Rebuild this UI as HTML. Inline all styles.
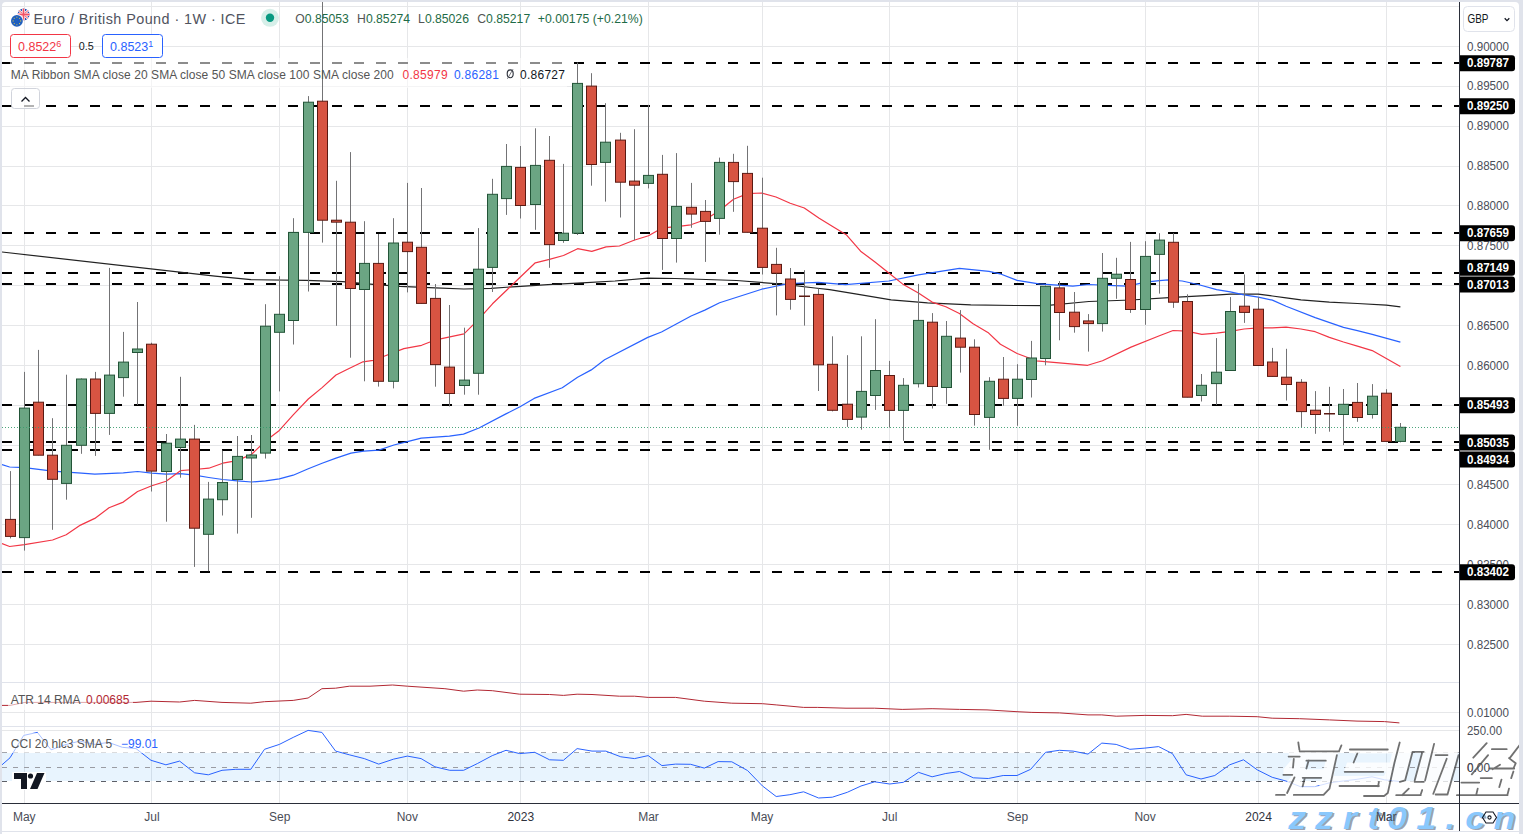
<!DOCTYPE html><html><head><meta charset="utf-8"><style>html,body{margin:0;padding:0;width:1523px;height:834px;overflow:hidden;background:#e0e3eb}</style></head><body><svg width="1523" height="834" viewBox="0 0 1523 834" style="position:absolute;left:0;top:0;font-family:'Liberation Sans', sans-serif">
<rect x="0" y="0" width="1523" height="834" fill="#e0e3eb"/>
<path d="M2 6a4 4 0 0 1 4 -4H1515a4 4 0 0 1 4 4V831H2Z" fill="#ffffff"/>
<rect x="2" y="832" width="1517" height="2" fill="#ffffff"/>
<defs><clipPath id="mp"><rect x="2" y="2" width="1457" height="681"/></clipPath><clipPath id="ap"><rect x="2" y="683" width="1457" height="43"/></clipPath><clipPath id="cp"><rect x="2" y="727" width="1457" height="76"/></clipPath></defs>
<path d="M24.5 2V803 M151.5 2V803 M279.5 2V803 M407.5 2V803 M520.5 2V803 M648.5 2V803 M762.5 2V803 M889.5 2V803 M1017.5 2V803 M1145.5 2V803 M1258.5 2V803 M1386.5 2V803 M2 6.5H1459 M2 46.5H1459 M2 86.5H1459 M2 126.5H1459 M2 166.5H1459 M2 205.5H1459 M2 245.5H1459 M2 285.5H1459 M2 325.5H1459 M2 365.5H1459 M2 405.5H1459 M2 445.5H1459 M2 484.5H1459 M2 524.5H1459 M2 564.5H1459 M2 604.5H1459 M2 644.5H1459 M2 712.5H1459 M2 730.5H1459" stroke="#e6e7e9" stroke-width="1" fill="none"/>
<path d="M2 682.5H1459 M2 726.5H1459" stroke="#e0e3eb" stroke-width="1"/>
<path d="M2 63.0H1459 M2 106.0H1459 M2 233.0H1459 M2 273.0H1459 M2 284.0H1459 M2 405.0H1459 M2 442.0H1459 M2 450.0H1459 M2 572.0H1459" stroke="#000" stroke-width="2" stroke-dasharray="10 12" fill="none"/>
<rect x="10" y="58" width="557" height="30" fill="#ffffff" fill-opacity="0.55"/>
<rect x="2" y="2" width="660" height="30" fill="#ffffff" fill-opacity="0.0"/>
<rect x="2" y="753" width="1457" height="28" fill="#2196f3" fill-opacity="0.1"/>
<path d="M2 752.5H1459" stroke="#a3a5ab" stroke-width="1" stroke-dasharray="5 6" fill="none"/>
<path d="M2 767.5H1459" stroke="#9a9ca3" stroke-width="1" stroke-dasharray="5 6" fill="none"/>
<path d="M2 781.5H1459" stroke="#5d6068" stroke-width="1" stroke-dasharray="5 6" fill="none"/>
<g clip-path="url(#mp)" fill="none" stroke-linejoin="round">
<polyline points="2.0,252.0 215.0,276.1 251.0,279.7 306.0,280.3 342.7,281.7 373.2,284.4 400.0,286.3 435.3,287.9 463.8,289.0 491.1,288.3 520.7,286.3 548.0,284.7 582.2,282.9 615.0,281.0 647.8,278.2 675.2,278.5 736.6,280.5 782.2,284.2 815.0,288.0 829.6,289.6 856.9,294.2 891.1,299.9 927.5,302.8 970.8,304.9 1015.0,305.5 1045.5,305.6 1088.8,301.5 1131.0,300.0 1173.1,297.4 1215.0,295.2 1230.3,294.2 1258.3,294.2 1272.4,296.0 1286.1,297.8 1300.9,299.9 1329.4,302.1 1357.4,303.5 1386.3,305.1 1400.4,306.9" stroke="#222222" stroke-width="1.2" opacity="1"/>
<polyline points="2.0,464.6 9.6,467.0 24.5,467.7 52.6,471.1 81.5,473.2 94.8,474.2 123.3,472.8 137.6,471.5 151.8,473.2 166.1,474.2 180.4,473.6 194.6,475.2 208.8,477.5 222.7,479.5 237.3,480.8 251.6,482.0 265.5,480.8 279.3,478.8 293.2,475.2 308.3,468.7 322.1,463.2 336.0,458.1 351.0,453.1 363.6,451.1 378.8,450.1 393.9,445.0 406.4,441.8 421.2,438.2 449.4,436.2 463.5,434.1 479.0,428.0 505.9,413.9 520.0,406.8 534.1,398.4 562.3,387.8 577.6,377.2 591.3,369.9 604.6,359.8 647.8,337.4 661.5,332.0 691.1,316.0 704.8,310.1 719.6,302.8 761.7,289.2 789.0,283.5 818.2,282.3 845.5,284.6 888.8,281.0 918.4,274.8 959.4,268.4 989.0,271.4 1000.0,273.8 1017.1,280.4 1038.7,283.8 1072.9,286.1 1088.8,284.5 1113.9,285.6 1127.5,286.1 1145.8,282.2 1159.4,280.6 1168.5,279.9 1182.2,281.0 1198.1,284.5 1216.6,289.6 1230.3,291.9 1244.0,294.9 1258.3,297.1 1272.4,300.1 1286.1,306.2 1315.2,317.6 1343.5,327.4 1357.4,330.6 1372.2,334.3 1400.4,342.2" stroke="#2962ff" stroke-width="1.2"/>
<polyline points="2.0,543.5 9.6,546.5 24.5,544.7 52.6,540.0 66.2,534.7 80.5,525.1 94.8,518.4 109.0,507.8 123.3,502.1 137.6,491.5 151.8,485.8 166.1,481.3 180.4,470.7 194.6,469.5 208.8,468.2 222.7,463.2 237.3,460.6 251.6,454.3 265.5,441.0 279.3,430.4 293.2,414.8 308.3,399.0 322.1,387.6 336.0,375.0 346.0,370.0 363.0,361.8 373.2,360.4 385.4,355.7 403.8,348.6 421.6,345.3 435.8,339.8 449.9,336.8 464.0,333.9 478.1,319.8 492.5,303.8 506.6,290.2 520.9,276.5 535.3,262.8 549.4,259.4 563.5,255.5 577.6,248.7 591.8,251.4 606.1,246.9 619.4,246.0 634.0,240.3 648.5,235.8 662.6,227.8 676.7,226.6 690.9,224.8 705.0,219.8 719.3,210.7 733.5,199.3 747.6,193.6 761.7,193.0 776.0,197.0 790.2,203.2 804.3,208.0 818.8,218.1 831.8,226.0 846.2,234.7 860.6,251.2 875.0,262.0 889.4,273.5 902.5,283.9 918.4,293.0 932.1,302.1 945.8,306.7 959.4,313.5 973.1,323.8 987.9,332.4 1000.4,344.3 1017.1,353.5 1036.4,360.8 1087.7,365.3 1102.5,360.8 1131.0,347.1 1159.4,335.7 1173.1,330.5 1186.7,331.1 1201.8,334.3 1216.6,333.1 1230.3,331.3 1244.0,329.0 1258.3,327.9 1272.4,327.9 1286.1,327.2 1300.9,329.0 1315.2,331.7 1329.4,337.4 1343.5,342.0 1357.4,346.1 1372.2,350.6 1386.3,358.6 1400.4,366.6" stroke="#f23645" stroke-width="1.2"/>
</g>
<g clip-path="url(#mp)">
<path d="M10.5 471.1V536.4M10.5 519.4V538.4" stroke="#737375" stroke-width="1"/>
<path d="M24.5 371.9V537.6M24.5 408.1V550.6" stroke="#737375" stroke-width="1"/>
<path d="M38.5 349.9V455.2M38.5 402.2V455.2" stroke="#737375" stroke-width="1"/>
<path d="M52.5 418.2V479.3M52.5 455.2V529.8" stroke="#737375" stroke-width="1"/>
<path d="M66.5 374.7V483.4M66.5 445.3V499.7" stroke="#737375" stroke-width="1"/>
<path d="M81.5 378.4V445.3M81.5 379.0V453.8" stroke="#737375" stroke-width="1"/>
<path d="M95.5 371.9V413.4M95.5 379.0V455.9" stroke="#737375" stroke-width="1"/>
<path d="M109.5 267.9V413.4M109.5 375.1V434.9" stroke="#737375" stroke-width="1"/>
<path d="M123.5 331.9V377.6M123.5 362.1V396.7" stroke="#737375" stroke-width="1"/>
<path d="M137.5 302.0V352.5M137.5 349.0V404.9" stroke="#737375" stroke-width="1"/>
<path d="M151.5 342.7V471.1M151.5 344.2V491.5" stroke="#737375" stroke-width="1"/>
<path d="M166.5 434.0V471.5M166.5 443.2V521.7" stroke="#737375" stroke-width="1"/>
<path d="M180.5 376.8V447.5M180.5 439.1V477.7" stroke="#737375" stroke-width="1"/>
<path d="M194.5 424.9V528.2M194.5 439.1V566.9" stroke="#737375" stroke-width="1"/>
<path d="M208.5 481.9V534.3M208.5 499.1V571.2" stroke="#737375" stroke-width="1"/>
<path d="M222.5 450.6V499.7M222.5 482.5V515.5" stroke="#737375" stroke-width="1"/>
<path d="M237.5 436.0V479.5M237.5 456.4V533.6" stroke="#737375" stroke-width="1"/>
<path d="M251.5 435.0V458.0M251.5 455.0V517.8" stroke="#737375" stroke-width="1"/>
<path d="M265.5 304.2V453.1M265.5 326.2V458.6" stroke="#737375" stroke-width="1"/>
<path d="M279.5 276.2V332.3M279.5 314.3V391.4" stroke="#737375" stroke-width="1"/>
<path d="M293.5 218.2V320.5M293.5 232.4V344.5" stroke="#737375" stroke-width="1"/>
<path d="M308.5 96.1V232.4M308.5 102.2V291.5" stroke="#737375" stroke-width="1"/>
<path d="M322.5 2.0V220.2M322.5 101.2V242.6" stroke="#737375" stroke-width="1"/>
<path d="M336.5 180.8V222.2M336.5 220.2V325.8" stroke="#737375" stroke-width="1"/>
<path d="M350.5 152.1V288.5M350.5 222.2V357.7" stroke="#737375" stroke-width="1"/>
<path d="M364.5 221.2V289.5M364.5 263.4V381.3" stroke="#737375" stroke-width="1"/>
<path d="M378.5 234.0V381.3M378.5 263.4V386.6" stroke="#737375" stroke-width="1"/>
<path d="M393.5 218.2V381.3M393.5 243.0V388.4" stroke="#737375" stroke-width="1"/>
<path d="M407.5 182.9V251.6M407.5 242.2V292.4" stroke="#737375" stroke-width="1"/>
<path d="M421.5 188.0V303.4M421.5 247.3V303.4" stroke="#737375" stroke-width="1"/>
<path d="M435.5 284.0V364.6M435.5 298.4V386.7" stroke="#737375" stroke-width="1"/>
<path d="M449.5 305.0V393.5M449.5 367.1V406.5" stroke="#737375" stroke-width="1"/>
<path d="M464.5 327.7V385.5M464.5 380.1V394.7" stroke="#737375" stroke-width="1"/>
<path d="M478.5 228.1V373.3M478.5 269.2V394.7" stroke="#737375" stroke-width="1"/>
<path d="M492.5 178.8V267.4M492.5 194.3V292.0" stroke="#737375" stroke-width="1"/>
<path d="M506.5 144.0V198.6M506.5 166.4V214.9" stroke="#737375" stroke-width="1"/>
<path d="M520.5 146.0V205.5M520.5 167.4V218.5" stroke="#737375" stroke-width="1"/>
<path d="M535.5 128.3V204.5M535.5 165.4V229.8" stroke="#737375" stroke-width="1"/>
<path d="M549.5 136.0V244.6M549.5 160.3V267.8" stroke="#737375" stroke-width="1"/>
<path d="M563.5 163.9V240.5M563.5 233.2V242.8" stroke="#737375" stroke-width="1"/>
<path d="M577.5 62.5V233.2M577.5 83.4V235.0" stroke="#737375" stroke-width="1"/>
<path d="M591.5 73.2V164.5M591.5 86.1V185.7" stroke="#737375" stroke-width="1"/>
<path d="M605.5 103.2V162.4M605.5 142.2V201.6" stroke="#737375" stroke-width="1"/>
<path d="M620.5 132.8V182.2M620.5 140.1V217.5" stroke="#737375" stroke-width="1"/>
<path d="M634.5 129.2V185.2M634.5 181.1V240.3" stroke="#737375" stroke-width="1"/>
<path d="M648.5 104.8V183.4M648.5 175.4V188.4" stroke="#737375" stroke-width="1"/>
<path d="M662.5 154.9V238.5M662.5 174.3V269.9" stroke="#737375" stroke-width="1"/>
<path d="M676.5 153.1V238.5M676.5 206.4V262.6" stroke="#737375" stroke-width="1"/>
<path d="M691.5 182.9V214.1M691.5 207.3V227.8" stroke="#737375" stroke-width="1"/>
<path d="M705.5 200.0V221.4M705.5 211.4V261.9" stroke="#737375" stroke-width="1"/>
<path d="M719.5 157.6V218.4M719.5 162.4V234.6" stroke="#737375" stroke-width="1"/>
<path d="M733.5 153.8V181.6M733.5 162.4V211.8" stroke="#737375" stroke-width="1"/>
<path d="M747.5 145.8V232.3M747.5 173.4V232.3" stroke="#737375" stroke-width="1"/>
<path d="M762.5 177.7V267.4M762.5 228.2V274.5" stroke="#737375" stroke-width="1"/>
<path d="M776.5 247.8V273.2M776.5 264.4V315.4" stroke="#737375" stroke-width="1"/>
<path d="M790.5 268.0V299.4M790.5 279.0V309.7" stroke="#737375" stroke-width="1"/>
<path d="M804.5 270.2V296.5M804.5 295.5V325.6" stroke="#737375" stroke-width="1"/>
<path d="M818.5 288.5V364.8M818.5 294.4V391.0" stroke="#737375" stroke-width="1"/>
<path d="M832.5 336.3V410.3M832.5 364.3V411.4" stroke="#737375" stroke-width="1"/>
<path d="M847.5 355.2V419.4M847.5 404.2V426.9" stroke="#737375" stroke-width="1"/>
<path d="M861.5 336.3V417.1M861.5 391.4V429.7" stroke="#737375" stroke-width="1"/>
<path d="M875.5 319.2V395.5M875.5 370.5V409.9" stroke="#737375" stroke-width="1"/>
<path d="M889.5 360.9V410.4M889.5 375.5V427.5" stroke="#737375" stroke-width="1"/>
<path d="M903.5 378.1V410.4M903.5 385.3V440.8" stroke="#737375" stroke-width="1"/>
<path d="M918.5 283.9V383.7M918.5 320.4V387.5" stroke="#737375" stroke-width="1"/>
<path d="M932.5 313.1V386.5M932.5 322.2V408.5" stroke="#737375" stroke-width="1"/>
<path d="M946.5 321.0V387.5M946.5 336.3V403.8" stroke="#737375" stroke-width="1"/>
<path d="M960.5 310.1V347.2M960.5 338.1V372.6" stroke="#737375" stroke-width="1"/>
<path d="M974.5 339.3V414.5M974.5 347.2V425.6" stroke="#737375" stroke-width="1"/>
<path d="M989.5 377.2V417.4M989.5 381.3V449.8" stroke="#737375" stroke-width="1"/>
<path d="M1003.5 357.0V398.4M1003.5 379.2V405.7" stroke="#737375" stroke-width="1"/>
<path d="M1017.5 364.2V398.4M1017.5 379.2V425.8" stroke="#737375" stroke-width="1"/>
<path d="M1031.5 340.9V379.5M1031.5 358.0V397.5" stroke="#737375" stroke-width="1"/>
<path d="M1045.5 285.6V358.5M1045.5 286.3V365.3" stroke="#737375" stroke-width="1"/>
<path d="M1059.5 281.0V312.5M1059.5 287.9V340.3" stroke="#737375" stroke-width="1"/>
<path d="M1074.5 292.0V326.6M1074.5 312.2V332.7" stroke="#737375" stroke-width="1"/>
<path d="M1088.5 314.1V323.6M1088.5 320.9V351.6" stroke="#737375" stroke-width="1"/>
<path d="M1102.5 253.0V323.6M1102.5 278.3V331.6" stroke="#737375" stroke-width="1"/>
<path d="M1116.5 257.8V278.3M1116.5 274.2V298.8" stroke="#737375" stroke-width="1"/>
<path d="M1130.5 241.9V309.5M1130.5 279.5V312.9" stroke="#737375" stroke-width="1"/>
<path d="M1145.5 241.2V309.5M1145.5 256.4V324.8" stroke="#737375" stroke-width="1"/>
<path d="M1159.5 233.2V254.4M1159.5 240.1V293.6" stroke="#737375" stroke-width="1"/>
<path d="M1173.5 233.2V302.2M1173.5 242.3V307.9" stroke="#737375" stroke-width="1"/>
<path d="M1187.5 294.3V397.2M1187.5 301.5V397.2" stroke="#737375" stroke-width="1"/>
<path d="M1201.5 374.0V395.5M1201.5 385.3V401.5" stroke="#737375" stroke-width="1"/>
<path d="M1216.5 338.1V383.6M1216.5 372.2V404.9" stroke="#737375" stroke-width="1"/>
<path d="M1230.5 297.1V370.5M1230.5 311.5V370.5" stroke="#737375" stroke-width="1"/>
<path d="M1244.5 274.4V312.4M1244.5 306.2V322.9" stroke="#737375" stroke-width="1"/>
<path d="M1258.5 297.1V365.5M1258.5 309.2V365.5" stroke="#737375" stroke-width="1"/>
<path d="M1272.5 347.9V376.4M1272.5 362.0V376.4" stroke="#737375" stroke-width="1"/>
<path d="M1286.5 348.8V384.5M1286.5 377.2V400.5" stroke="#737375" stroke-width="1"/>
<path d="M1301.5 379.1V411.6M1301.5 382.3V427.3" stroke="#737375" stroke-width="1"/>
<path d="M1315.5 391.1V414.5M1315.5 410.2V433.8" stroke="#737375" stroke-width="1"/>
<path d="M1329.5 386.8V414.5M1329.5 413.0V431.7" stroke="#737375" stroke-width="1"/>
<path d="M1343.5 389.0V414.5M1343.5 404.3V445.1" stroke="#737375" stroke-width="1"/>
<path d="M1357.5 383.0V417.5M1357.5 402.4V421.8" stroke="#737375" stroke-width="1"/>
<path d="M1372.5 384.1V414.5M1372.5 396.2V418.6" stroke="#737375" stroke-width="1"/>
<path d="M1386.5 389.2V441.4M1386.5 393.2V441.4" stroke="#737375" stroke-width="1"/>
<path d="M1400.5 423.0V441.4M1400.5 427.3V442.4" stroke="#737375" stroke-width="1"/>
<rect x="5.5" y="519.4" width="10" height="17.0" fill="#d75442" stroke="#5b1a13" stroke-width="1"/>
<rect x="19.5" y="408.1" width="10" height="129.5" fill="#6ba583" stroke="#225437" stroke-width="1"/>
<rect x="33.5" y="402.2" width="10" height="53.0" fill="#d75442" stroke="#5b1a13" stroke-width="1"/>
<rect x="47.5" y="455.2" width="10" height="24.1" fill="#d75442" stroke="#5b1a13" stroke-width="1"/>
<rect x="61.5" y="445.3" width="10" height="38.1" fill="#6ba583" stroke="#225437" stroke-width="1"/>
<rect x="76.5" y="379.0" width="10" height="66.3" fill="#6ba583" stroke="#225437" stroke-width="1"/>
<rect x="90.5" y="379.0" width="10" height="34.4" fill="#d75442" stroke="#5b1a13" stroke-width="1"/>
<rect x="104.5" y="375.1" width="10" height="38.3" fill="#6ba583" stroke="#225437" stroke-width="1"/>
<rect x="118.5" y="362.1" width="10" height="15.5" fill="#6ba583" stroke="#225437" stroke-width="1"/>
<rect x="132.5" y="349.0" width="10" height="3.5" fill="#6ba583" stroke="#225437" stroke-width="1"/>
<rect x="146.5" y="344.2" width="10" height="126.9" fill="#d75442" stroke="#5b1a13" stroke-width="1"/>
<rect x="161.5" y="443.2" width="10" height="28.3" fill="#6ba583" stroke="#225437" stroke-width="1"/>
<rect x="175.5" y="439.1" width="10" height="8.4" fill="#6ba583" stroke="#225437" stroke-width="1"/>
<rect x="189.5" y="439.1" width="10" height="89.1" fill="#d75442" stroke="#5b1a13" stroke-width="1"/>
<rect x="203.5" y="499.1" width="10" height="35.2" fill="#6ba583" stroke="#225437" stroke-width="1"/>
<rect x="217.5" y="482.5" width="10" height="17.2" fill="#6ba583" stroke="#225437" stroke-width="1"/>
<rect x="232.5" y="456.4" width="10" height="23.1" fill="#6ba583" stroke="#225437" stroke-width="1"/>
<rect x="246.5" y="455.0" width="10" height="3.0" fill="#6ba583" stroke="#225437" stroke-width="1"/>
<rect x="260.5" y="326.2" width="10" height="126.9" fill="#6ba583" stroke="#225437" stroke-width="1"/>
<rect x="274.5" y="314.3" width="10" height="18.0" fill="#6ba583" stroke="#225437" stroke-width="1"/>
<rect x="288.5" y="232.4" width="10" height="88.1" fill="#6ba583" stroke="#225437" stroke-width="1"/>
<rect x="303.5" y="102.2" width="10" height="130.2" fill="#6ba583" stroke="#225437" stroke-width="1"/>
<rect x="317.5" y="101.2" width="10" height="119.0" fill="#d75442" stroke="#5b1a13" stroke-width="1"/>
<rect x="331" y="219.7" width="11" height="3.0" fill="#5b1a13"/>
<rect x="332" y="220.7" width="9" height="1.0" fill="#d75442"/>
<rect x="345.5" y="222.2" width="10" height="66.3" fill="#d75442" stroke="#5b1a13" stroke-width="1"/>
<rect x="359.5" y="263.4" width="10" height="26.1" fill="#6ba583" stroke="#225437" stroke-width="1"/>
<rect x="373.5" y="263.4" width="10" height="117.9" fill="#d75442" stroke="#5b1a13" stroke-width="1"/>
<rect x="388.5" y="243.0" width="10" height="138.3" fill="#6ba583" stroke="#225437" stroke-width="1"/>
<rect x="402.5" y="242.2" width="10" height="9.4" fill="#d75442" stroke="#5b1a13" stroke-width="1"/>
<rect x="416.5" y="247.3" width="10" height="56.1" fill="#d75442" stroke="#5b1a13" stroke-width="1"/>
<rect x="430.5" y="298.4" width="10" height="66.2" fill="#d75442" stroke="#5b1a13" stroke-width="1"/>
<rect x="444.5" y="367.1" width="10" height="26.4" fill="#d75442" stroke="#5b1a13" stroke-width="1"/>
<rect x="459.5" y="380.1" width="10" height="5.4" fill="#6ba583" stroke="#225437" stroke-width="1"/>
<rect x="473.5" y="269.2" width="10" height="104.1" fill="#6ba583" stroke="#225437" stroke-width="1"/>
<rect x="487.5" y="194.3" width="10" height="73.1" fill="#6ba583" stroke="#225437" stroke-width="1"/>
<rect x="501.5" y="166.4" width="10" height="32.2" fill="#6ba583" stroke="#225437" stroke-width="1"/>
<rect x="515.5" y="167.4" width="10" height="38.1" fill="#d75442" stroke="#5b1a13" stroke-width="1"/>
<rect x="530.5" y="165.4" width="10" height="39.1" fill="#6ba583" stroke="#225437" stroke-width="1"/>
<rect x="544.5" y="160.3" width="10" height="84.3" fill="#d75442" stroke="#5b1a13" stroke-width="1"/>
<rect x="558.5" y="233.2" width="10" height="7.3" fill="#6ba583" stroke="#225437" stroke-width="1"/>
<rect x="572.5" y="83.4" width="10" height="149.8" fill="#6ba583" stroke="#225437" stroke-width="1"/>
<rect x="586.5" y="86.1" width="10" height="78.4" fill="#d75442" stroke="#5b1a13" stroke-width="1"/>
<rect x="600.5" y="142.2" width="10" height="20.2" fill="#6ba583" stroke="#225437" stroke-width="1"/>
<rect x="615.5" y="140.1" width="10" height="42.1" fill="#d75442" stroke="#5b1a13" stroke-width="1"/>
<rect x="629.5" y="181.1" width="10" height="4.1" fill="#d75442" stroke="#5b1a13" stroke-width="1"/>
<rect x="643.5" y="175.4" width="10" height="8.0" fill="#6ba583" stroke="#225437" stroke-width="1"/>
<rect x="657.5" y="174.3" width="10" height="64.2" fill="#d75442" stroke="#5b1a13" stroke-width="1"/>
<rect x="671.5" y="206.4" width="10" height="32.1" fill="#6ba583" stroke="#225437" stroke-width="1"/>
<rect x="686.5" y="207.3" width="10" height="6.8" fill="#d75442" stroke="#5b1a13" stroke-width="1"/>
<rect x="700.5" y="211.4" width="10" height="10.0" fill="#d75442" stroke="#5b1a13" stroke-width="1"/>
<rect x="714.5" y="162.4" width="10" height="56.0" fill="#6ba583" stroke="#225437" stroke-width="1"/>
<rect x="728.5" y="162.4" width="10" height="19.2" fill="#d75442" stroke="#5b1a13" stroke-width="1"/>
<rect x="742.5" y="173.4" width="10" height="58.9" fill="#d75442" stroke="#5b1a13" stroke-width="1"/>
<rect x="757.5" y="228.2" width="10" height="39.2" fill="#d75442" stroke="#5b1a13" stroke-width="1"/>
<rect x="771.5" y="264.4" width="10" height="8.8" fill="#d75442" stroke="#5b1a13" stroke-width="1"/>
<rect x="785.5" y="279.0" width="10" height="20.4" fill="#d75442" stroke="#5b1a13" stroke-width="1"/>
<rect x="799" y="295.5" width="11" height="1.5" fill="#5b1a13"/>
<rect x="813.5" y="294.4" width="10" height="70.4" fill="#d75442" stroke="#5b1a13" stroke-width="1"/>
<rect x="827.5" y="364.3" width="10" height="46.0" fill="#d75442" stroke="#5b1a13" stroke-width="1"/>
<rect x="842.5" y="404.2" width="10" height="15.2" fill="#d75442" stroke="#5b1a13" stroke-width="1"/>
<rect x="856.5" y="391.4" width="10" height="25.7" fill="#6ba583" stroke="#225437" stroke-width="1"/>
<rect x="870.5" y="370.5" width="10" height="25.0" fill="#6ba583" stroke="#225437" stroke-width="1"/>
<rect x="884.5" y="375.5" width="10" height="34.9" fill="#d75442" stroke="#5b1a13" stroke-width="1"/>
<rect x="898.5" y="385.3" width="10" height="25.1" fill="#6ba583" stroke="#225437" stroke-width="1"/>
<rect x="913.5" y="320.4" width="10" height="63.3" fill="#6ba583" stroke="#225437" stroke-width="1"/>
<rect x="927.5" y="322.2" width="10" height="64.3" fill="#d75442" stroke="#5b1a13" stroke-width="1"/>
<rect x="941.5" y="336.3" width="10" height="51.2" fill="#6ba583" stroke="#225437" stroke-width="1"/>
<rect x="955.5" y="338.1" width="10" height="9.1" fill="#d75442" stroke="#5b1a13" stroke-width="1"/>
<rect x="969.5" y="347.2" width="10" height="67.3" fill="#d75442" stroke="#5b1a13" stroke-width="1"/>
<rect x="984.5" y="381.3" width="10" height="36.1" fill="#6ba583" stroke="#225437" stroke-width="1"/>
<rect x="998.5" y="379.2" width="10" height="19.2" fill="#d75442" stroke="#5b1a13" stroke-width="1"/>
<rect x="1012.5" y="379.2" width="10" height="19.2" fill="#6ba583" stroke="#225437" stroke-width="1"/>
<rect x="1026.5" y="358.0" width="10" height="21.5" fill="#6ba583" stroke="#225437" stroke-width="1"/>
<rect x="1040.5" y="286.3" width="10" height="72.2" fill="#6ba583" stroke="#225437" stroke-width="1"/>
<rect x="1054.5" y="287.9" width="10" height="24.6" fill="#d75442" stroke="#5b1a13" stroke-width="1"/>
<rect x="1069.5" y="312.2" width="10" height="14.4" fill="#d75442" stroke="#5b1a13" stroke-width="1"/>
<rect x="1083" y="320.4" width="11" height="3.7" fill="#5b1a13"/>
<rect x="1084" y="321.4" width="9" height="1.7" fill="#d75442"/>
<rect x="1097.5" y="278.3" width="10" height="45.3" fill="#6ba583" stroke="#225437" stroke-width="1"/>
<rect x="1111.5" y="274.2" width="10" height="4.1" fill="#6ba583" stroke="#225437" stroke-width="1"/>
<rect x="1125.5" y="279.5" width="10" height="30.0" fill="#d75442" stroke="#5b1a13" stroke-width="1"/>
<rect x="1140.5" y="256.4" width="10" height="53.1" fill="#6ba583" stroke="#225437" stroke-width="1"/>
<rect x="1154.5" y="240.1" width="10" height="14.3" fill="#6ba583" stroke="#225437" stroke-width="1"/>
<rect x="1168.5" y="242.3" width="10" height="59.9" fill="#d75442" stroke="#5b1a13" stroke-width="1"/>
<rect x="1182.5" y="301.5" width="10" height="95.7" fill="#d75442" stroke="#5b1a13" stroke-width="1"/>
<rect x="1196.5" y="385.3" width="10" height="10.2" fill="#6ba583" stroke="#225437" stroke-width="1"/>
<rect x="1211.5" y="372.2" width="10" height="11.4" fill="#6ba583" stroke="#225437" stroke-width="1"/>
<rect x="1225.5" y="311.5" width="10" height="59.0" fill="#6ba583" stroke="#225437" stroke-width="1"/>
<rect x="1239.5" y="306.2" width="10" height="6.2" fill="#d75442" stroke="#5b1a13" stroke-width="1"/>
<rect x="1253.5" y="309.2" width="10" height="56.3" fill="#d75442" stroke="#5b1a13" stroke-width="1"/>
<rect x="1267.5" y="362.0" width="10" height="14.4" fill="#d75442" stroke="#5b1a13" stroke-width="1"/>
<rect x="1281.5" y="377.2" width="10" height="7.3" fill="#d75442" stroke="#5b1a13" stroke-width="1"/>
<rect x="1296.5" y="382.3" width="10" height="29.3" fill="#d75442" stroke="#5b1a13" stroke-width="1"/>
<rect x="1310.5" y="410.2" width="10" height="4.3" fill="#d75442" stroke="#5b1a13" stroke-width="1"/>
<rect x="1324" y="413.0" width="11" height="1.5" fill="#5b1a13"/>
<rect x="1338.5" y="404.3" width="10" height="10.2" fill="#6ba583" stroke="#225437" stroke-width="1"/>
<rect x="1352.5" y="402.4" width="10" height="15.1" fill="#d75442" stroke="#5b1a13" stroke-width="1"/>
<rect x="1367.5" y="396.2" width="10" height="18.3" fill="#6ba583" stroke="#225437" stroke-width="1"/>
<rect x="1381.5" y="393.2" width="10" height="48.2" fill="#d75442" stroke="#5b1a13" stroke-width="1"/>
<rect x="1395.5" y="427.3" width="10" height="14.1" fill="#6ba583" stroke="#225437" stroke-width="1"/>
</g>
<path d="M2 427.5H1459" stroke="#3a9d6e" stroke-width="1" stroke-dasharray="1 2" opacity="0.9"/>
<polyline clip-path="url(#ap)" points="2.0,705.4 10.0,705.4 25.0,702.4 136.0,702.4 151.0,701.2 179.6,702.0 194.6,700.4 222.0,702.4 250.8,703.2 264.5,701.7 293.2,700.4 308.1,698.0 321.9,688.7 335.6,688.2 349.3,686.2 370.0,686.2 392.5,685.0 407.4,686.2 444.9,688.7 463.6,691.2 477.3,690.0 492.3,690.7 519.7,694.2 549.6,694.5 563.4,695.4 577.1,694.2 592.0,694.5 619.5,696.2 634.5,696.2 648.2,697.4 675.6,697.4 704.3,701.2 731.8,703.2 762.5,703.7 776.2,704.9 803.6,707.4 817.3,707.4 846.0,708.2 874.7,708.2 902.2,709.4 932.1,708.7 959.6,709.4 987.0,709.9 1017.0,711.7 1031.9,712.4 1059.4,712.9 1088.0,714.9 1101.8,714.9 1116.2,716.2 1144.9,715.4 1172.4,715.7 1186.1,714.4 1202.3,716.2 1229.7,716.2 1257.2,716.7 1272.2,718.2 1299.6,718.7 1329.5,719.9 1357.0,721.1 1384.4,721.6 1399.4,722.9" stroke="#b22833" stroke-width="1" fill="none"/>
<polyline clip-path="url(#cp)" points="2.0,764.8 10.0,757.8 23.7,735.4 37.4,732.4 51.1,749.8 64.9,744.8 79.8,741.1 94.8,744.4 108.5,742.4 122.3,747.3 136.0,748.6 151.0,760.3 165.9,764.8 179.6,761.1 194.6,772.8 208.3,774.8 222.0,770.3 235.8,769.3 250.8,769.3 264.5,749.3 279.4,744.4 293.2,737.4 308.1,730.4 321.9,732.4 335.6,751.1 349.3,754.8 364.3,758.6 378.7,764.1 393.7,759.1 407.4,756.1 421.1,758.6 434.9,766.8 449.8,770.3 463.6,770.3 477.3,763.6 492.3,755.6 506.0,750.3 519.7,753.6 534.7,752.3 549.6,759.8 563.4,760.3 577.1,748.6 592.0,751.1 605.8,751.1 620.8,756.8 634.5,758.6 648.2,755.6 661.9,765.6 675.6,764.1 690.6,764.3 704.3,768.1 718.1,761.6 731.8,761.8 747.5,770.5 762.5,786.0 776.2,796.5 789.9,794.7 803.6,791.8 818.6,798.0 832.3,797.2 847.3,792.3 861.0,786.0 874.7,781.8 889.7,784.0 903.4,782.3 918.4,772.3 932.1,776.8 945.8,773.5 959.6,771.5 973.3,777.8 988.3,778.5 1003.2,775.5 1017.0,775.5 1030.7,769.3 1045.6,752.3 1059.4,750.3 1073.1,751.1 1088.0,754.1 1101.8,743.1 1116.2,744.4 1129.9,749.3 1144.9,748.1 1158.6,746.6 1172.4,753.6 1186.1,774.8 1201.0,779.0 1214.8,775.5 1229.7,764.8 1243.5,759.8 1257.2,769.8 1272.2,777.3 1285.9,781.0 1300.8,786.8 1314.6,786.8 1329.5,782.8 1343.3,781.0 1357.0,779.3 1372.0,776.8 1384.4,779.8 1399.4,781.5" stroke="#2962ff" stroke-width="1" fill="none"/>
<path d="M1459.5 2V831 M2 803.5H1519" stroke="#2a2e39" stroke-width="1"/>
<text x="1467" y="50.5" font-size="12" fill="#4a4d57" textLength="42" lengthAdjust="spacingAndGlyphs">0.90000</text>
<text x="1467" y="90.4" font-size="12" fill="#4a4d57" textLength="42" lengthAdjust="spacingAndGlyphs">0.89500</text>
<text x="1467" y="130.3" font-size="12" fill="#4a4d57" textLength="42" lengthAdjust="spacingAndGlyphs">0.89000</text>
<text x="1467" y="170.2" font-size="12" fill="#4a4d57" textLength="42" lengthAdjust="spacingAndGlyphs">0.88500</text>
<text x="1467" y="210.1" font-size="12" fill="#4a4d57" textLength="42" lengthAdjust="spacingAndGlyphs">0.88000</text>
<text x="1467" y="250.0" font-size="12" fill="#4a4d57" textLength="42" lengthAdjust="spacingAndGlyphs">0.87500</text>
<text x="1467" y="289.8" font-size="12" fill="#4a4d57" textLength="42" lengthAdjust="spacingAndGlyphs">0.87000</text>
<text x="1467" y="329.7" font-size="12" fill="#4a4d57" textLength="42" lengthAdjust="spacingAndGlyphs">0.86500</text>
<text x="1467" y="369.6" font-size="12" fill="#4a4d57" textLength="42" lengthAdjust="spacingAndGlyphs">0.86000</text>
<text x="1467" y="409.5" font-size="12" fill="#4a4d57" textLength="42" lengthAdjust="spacingAndGlyphs">0.85500</text>
<text x="1467" y="449.4" font-size="12" fill="#4a4d57" textLength="42" lengthAdjust="spacingAndGlyphs">0.85000</text>
<text x="1467" y="489.3" font-size="12" fill="#4a4d57" textLength="42" lengthAdjust="spacingAndGlyphs">0.84500</text>
<text x="1467" y="529.2" font-size="12" fill="#4a4d57" textLength="42" lengthAdjust="spacingAndGlyphs">0.84000</text>
<text x="1467" y="569.1" font-size="12" fill="#4a4d57" textLength="42" lengthAdjust="spacingAndGlyphs">0.83500</text>
<text x="1467" y="609.0" font-size="12" fill="#4a4d57" textLength="42" lengthAdjust="spacingAndGlyphs">0.83000</text>
<text x="1467" y="648.8" font-size="12" fill="#4a4d57" textLength="42" lengthAdjust="spacingAndGlyphs">0.82500</text>
<path d="M1459 55.2H1512a3 3 0 0 1 3 3V68.2a3 3 0 0 1 -3 3H1459Z" fill="#000"/>
<text x="1467" y="67.3" font-size="12" font-weight="bold" fill="#fff" textLength="42" lengthAdjust="spacingAndGlyphs">0.89787</text>
<path d="M1459 98.2H1512a3 3 0 0 1 3 3V111.2a3 3 0 0 1 -3 3H1459Z" fill="#000"/>
<text x="1467" y="110.3" font-size="12" font-weight="bold" fill="#fff" textLength="42" lengthAdjust="spacingAndGlyphs">0.89250</text>
<path d="M1459 225.2H1512a3 3 0 0 1 3 3V238.2a3 3 0 0 1 -3 3H1459Z" fill="#000"/>
<text x="1467" y="237.3" font-size="12" font-weight="bold" fill="#fff" textLength="42" lengthAdjust="spacingAndGlyphs">0.87659</text>
<path d="M1459 259.7H1512a3 3 0 0 1 3 3V272.7a3 3 0 0 1 -3 3H1459Z" fill="#000"/>
<text x="1467" y="271.8" font-size="12" font-weight="bold" fill="#fff" textLength="42" lengthAdjust="spacingAndGlyphs">0.87149</text>
<path d="M1459 276.5H1512a3 3 0 0 1 3 3V289.5a3 3 0 0 1 -3 3H1459Z" fill="#000"/>
<text x="1467" y="288.6" font-size="12" font-weight="bold" fill="#fff" textLength="42" lengthAdjust="spacingAndGlyphs">0.87013</text>
<path d="M1459 397.2H1512a3 3 0 0 1 3 3V410.2a3 3 0 0 1 -3 3H1459Z" fill="#000"/>
<text x="1467" y="409.3" font-size="12" font-weight="bold" fill="#fff" textLength="42" lengthAdjust="spacingAndGlyphs">0.85493</text>
<path d="M1459 434.6H1512a3 3 0 0 1 3 3V447.6a3 3 0 0 1 -3 3H1459Z" fill="#000"/>
<text x="1467" y="446.7" font-size="12" font-weight="bold" fill="#fff" textLength="42" lengthAdjust="spacingAndGlyphs">0.85035</text>
<path d="M1459 451.4H1512a3 3 0 0 1 3 3V464.4a3 3 0 0 1 -3 3H1459Z" fill="#000"/>
<text x="1467" y="463.5" font-size="12" font-weight="bold" fill="#fff" textLength="42" lengthAdjust="spacingAndGlyphs">0.84934</text>
<path d="M1459 564.2H1512a3 3 0 0 1 3 3V577.2a3 3 0 0 1 -3 3H1459Z" fill="#000"/>
<text x="1467" y="576.3" font-size="12" font-weight="bold" fill="#fff" textLength="42" lengthAdjust="spacingAndGlyphs">0.83402</text>
<text x="1467" y="716.5" font-size="12" fill="#4a4d57" textLength="42" lengthAdjust="spacingAndGlyphs">0.01000</text>
<text x="1467" y="734.5" font-size="12" fill="#4a4d57" textLength="35" lengthAdjust="spacingAndGlyphs">250.00</text>
<text x="1467" y="771.5" font-size="12" fill="#4a4d57" textLength="23" lengthAdjust="spacingAndGlyphs">0.00</text>
<rect x="1463.5" y="6.5" width="51" height="25" rx="4" fill="#fff" stroke="#e0e3eb" stroke-width="1"/>
<text x="1467.5" y="22.5" font-size="12" fill="#131722" textLength="21" lengthAdjust="spacingAndGlyphs">GBP</text>
<path d="M1504.7 18.3l2.3 2.3l2.3-2.3" stroke="#131722" stroke-width="1.3" fill="none"/>
<text x="24.3" y="821" font-size="12" fill="#4a4d57" text-anchor="middle">May</text>
<text x="152.0" y="821" font-size="12" fill="#4a4d57" text-anchor="middle">Jul</text>
<text x="279.7" y="821" font-size="12" fill="#4a4d57" text-anchor="middle">Sep</text>
<text x="407.3" y="821" font-size="12" fill="#4a4d57" text-anchor="middle">Nov</text>
<text x="520.8" y="821" font-size="12" fill="#2f323c" text-anchor="middle">2023</text>
<text x="648.5" y="821" font-size="12" fill="#4a4d57" text-anchor="middle">Mar</text>
<text x="762.0" y="821" font-size="12" fill="#4a4d57" text-anchor="middle">May</text>
<text x="889.7" y="821" font-size="12" fill="#4a4d57" text-anchor="middle">Jul</text>
<text x="1017.4" y="821" font-size="12" fill="#4a4d57" text-anchor="middle">Sep</text>
<text x="1145.1" y="821" font-size="12" fill="#4a4d57" text-anchor="middle">Nov</text>
<text x="1258.6" y="821" font-size="12" fill="#2f323c" text-anchor="middle">2024</text>
<text x="1386.3" y="821" font-size="12" fill="#4a4d57" text-anchor="middle">Mar</text>
<text x="33.4" y="24" font-size="14.4" fill="#50535e" textLength="212" lengthAdjust="spacing">Euro / British Pound · 1W · ICE</text>
<circle cx="270" cy="17.8" r="9" fill="#d6efe9"/><circle cx="270" cy="17.8" r="4.2" fill="#089981"/>
<g font-size="12.2" fill="#1e6b46"><text x="295.3" y="23"><tspan fill="#555">O</tspan>0.85053</text><text x="357.1" y="23"><tspan fill="#555">H</tspan>0.85274</text><text x="418.1" y="23"><tspan fill="#555">L</tspan>0.85026</text><text x="477.3" y="23"><tspan fill="#555">C</tspan>0.85217</text><text x="537.8" y="23" textLength="105" lengthAdjust="spacing">+0.00175 (+0.21%)</text></g>
<rect x="10.5" y="34.5" width="60" height="23" rx="3" fill="#fff" stroke="#f23645" stroke-width="1"/>
<text x="18" y="51" font-size="12.5" fill="#f23645">0.8522<tspan font-size="9" dy="-4">6</tspan></text>
<text x="78.8" y="50" font-size="11" fill="#131722" textLength="15" lengthAdjust="spacingAndGlyphs">0.5</text>
<rect x="102.5" y="34.5" width="60" height="23" rx="3" fill="#fff" stroke="#2962ff" stroke-width="1"/>
<text x="110" y="51" font-size="12.5" fill="#2962ff">0.8523<tspan font-size="9" dy="-4">1</tspan></text>
<text x="10.8" y="79" font-size="12" fill="#555" textLength="383" lengthAdjust="spacing">MA Ribbon SMA close 20 SMA close 50 SMA close 100 SMA close 200</text>
<text x="402.4" y="79" font-size="12" fill="#f23645" textLength="45.4" lengthAdjust="spacing">0.85979</text>
<text x="453.9" y="79" font-size="12" fill="#2962ff" textLength="45.1" lengthAdjust="spacing">0.86281</text>
<ellipse cx="510.2" cy="73.8" rx="3.0" ry="3.9" fill="none" stroke="#2a2e39" stroke-width="1.1"/><path d="M513 69.2L507.4 78.8" stroke="#55575f" stroke-width="0.8"/>
<text x="520" y="79" font-size="12" fill="#131722" textLength="45" lengthAdjust="spacing">0.86727</text>
<rect x="11.5" y="88.5" width="28" height="20" rx="3" fill="#fff" fill-opacity="0.7" stroke="#d1d4dc" stroke-width="1"/>
<path d="M21.5 101.5l4-4l4 4" stroke="#131722" stroke-width="1.3" fill="none"/>
<rect x="8" y="690" width="125" height="20" fill="#fff" fill-opacity="0.6"/>
<text x="10.8" y="704" font-size="12" fill="#555">ATR 14 RMA</text>
<text x="86" y="704" font-size="12" fill="#b22833">0.00685</text>
<rect x="8" y="733" width="152" height="20" fill="#fff" fill-opacity="0.6"/>
<text x="10.8" y="748" font-size="12" fill="#555">CCI 20 hlc3 SMA 5</text>
<text x="121" y="748" font-size="12" fill="#2962ff">−99.01</text>
<rect x="12" y="772" width="34" height="18" fill="#fff"/>
<path d="M14 773H27V789H21V779H14Z" fill="#131722"/><circle cx="30.5" cy="776" r="2.6" fill="#131722"/><path d="M37 773H44.5L37.5 789H30Z" fill="#131722"/>
<defs><clipPath id="ukc"><circle cx="23.6" cy="14.6" r="6"/></clipPath></defs>
<g clip-path="url(#ukc)"><circle cx="23.5" cy="14.5" r="6.5" fill="#1e4fb5"/><path d="M16 8L31 21M31 8L16 21" stroke="#fff" stroke-width="2.6"/><path d="M16 8L31 21M31 8L16 21" stroke="#e84c5a" stroke-width="1"/><path d="M23.5 7V22M16 14.5H31" stroke="#fff" stroke-width="3"/><path d="M23.5 7V22M16 14.5H31" stroke="#f05365" stroke-width="1.8"/></g>
<circle cx="16.9" cy="20.9" r="6.8" fill="#fff"/>
<circle cx="16.9" cy="20.9" r="5.9" fill="#1f5fbf"/>
<circle cx="20.70" cy="20.90" r="0.55" fill="#f5d33a"/>
<circle cx="19.59" cy="23.59" r="0.55" fill="#f5d33a"/>
<circle cx="16.90" cy="24.70" r="0.55" fill="#f5d33a"/>
<circle cx="14.21" cy="23.59" r="0.55" fill="#f5d33a"/>
<circle cx="13.10" cy="20.90" r="0.55" fill="#f5d33a"/>
<circle cx="14.21" cy="18.21" r="0.55" fill="#f5d33a"/>
<circle cx="16.90" cy="17.10" r="0.55" fill="#f5d33a"/>
<circle cx="19.59" cy="18.21" r="0.55" fill="#f5d33a"/>
<defs><filter id="blr" x="-5%" y="-5%" width="110%" height="110%"><feGaussianBlur stdDeviation="0.75"/></filter><clipPath id="wmc"><rect x="0" y="0" width="1519" height="831"/></clipPath></defs>
<g clip-path="url(#wmc)"><path d="M1288.6 741.7 L1341.4 741.7 L1339.1 751.8 L1336.9 755.1 L1332.5 784.1 L1328.0 795.2 L1276.0 795.2 L1292.3 775.2 L1283.4 775.2 L1283.4 769.2 L1292.3 758.8 L1288.6 757.3Z M1306.4 760.3 L1325.8 760.3 L1323.5 769.2 L1304.9 769.2Z M1302.7 777.4 L1321.3 777.4 L1319.1 786.3 L1301.2 786.3Z M1351.0 741.5 L1400.0 741.5 L1387.8 796.0 L1362.0 796.0 L1364.0 787.0 L1379.0 786.0 L1332.0 786.0 L1334.0 776.0 L1384.0 776.0 L1386.0 771.8 L1344.0 771.8 L1347.0 762.5 L1390.0 762.5 L1392.0 753.5 L1353.0 753.5 L1351.0 749.5Z M1400.0 741.5 L1436.0 741.5 L1434.0 751.8 L1458.0 751.8 L1447.5 795.0 L1396.0 795.0 L1399.9 781.9 L1386.5 793.8Z M1412.5 751.8 L1422.2 751.8 L1414.7 781.0 L1405.1 781.0Z M1478.0 741.5 L1521.6 741.5 L1509.7 758.1 L1515.7 763.3 L1513.4 771.5 L1511.2 778.1 L1501.5 779.6 L1509.0 788.6 L1507.5 795.2 L1456.9 795.2 L1461.4 782.6 L1471.8 774.4 L1473.3 757.7Z" fill="#ffffff" fill-opacity="0.8" fill-rule="evenodd"/>
<path d="M1298.3 742.5L1299.4 749.9 M1299.7 751.4L1339.1 751.4 M1341.4 745.4L1339.1 751.0 M1288.6 756.6L1299.7 756.6 M1293.8 758.8L1293.0 767.7 M1306.4 760.7L1325.8 760.7 M1308.7 760.3L1306.4 768.5 M1283.4 774.8L1292.3 774.8 M1302.7 777.8L1321.3 777.8 M1304.9 777.8L1302.7 786.3 M1336.9 755.1L1329.5 788.6 M1329.5 788.6L1323.5 794.9 M1293.8 794.9L1323.5 794.9 M1276.0 794.9L1284.9 794.9 M1287.1 793.0L1294.5 777.4 M1349.9 749.5L1387.8 749.5 M1357.3 753.6L1353.6 762.5 M1344.7 771.8L1383.3 771.8 M1399.7 742.5L1394.5 762.5 M1394.5 762.5L1387.8 793.0 M1387.8 793.0L1384.1 796.0 M1364.0 796.0L1384.1 796.0 M1339.5 786.0L1378.9 786.0 M1378.9 781.9L1378.1 786.3 M1412.5 751.8L1423.7 751.8 M1412.5 752.1L1405.1 780.4 M1405.1 780.4L1399.9 781.9 M1422.2 752.5L1414.7 780.4 M1414.7 781.9L1423.7 781.9 M1434.1 743.9L1425.1 780.4 M1435.6 755.1L1447.5 755.1 M1446.7 758.8L1433.3 793.8 M1458.6 755.1L1447.5 794.5 M1435.6 794.5L1447.5 794.5 M1408.8 788.6L1402.1 795.2 M1422.2 790.0L1420.7 794.5 M1396.2 795.2L1420.7 795.2 M1486.7 743.2L1473.3 757.7 M1491.9 749.2L1506.7 749.2 M1521.6 742.5L1509.7 758.1 M1488.1 755.1L1471.8 774.4 M1509.0 758.1L1515.7 763.3 M1515.7 763.3L1513.4 768.5 M1489.6 768.5L1514.2 768.5 M1500.0 764.8L1492.6 769.2 M1513.4 771.5L1511.2 778.1 M1480.7 778.1L1491.9 778.1 M1461.4 782.6L1479.2 782.6 M1501.5 779.6L1499.3 787.1 M1509.0 788.6L1507.5 794.5 M1456.9 795.2L1507.5 795.2 M1477.7 788.6L1476.3 794.5" stroke="#3a3a3a" stroke-width="1.8" stroke-opacity="0.72" fill="none" stroke-linecap="round" filter="url(#blr)"/></g>
<g clip-path="url(#wmc)"><g fill="#8a90a2" fill-opacity="0.85"><text transform="translate(1290.1,830.4) scale(1.12,1)" font-size="32" font-weight="bold" font-style="italic">z</text><text transform="translate(1316.7,830.4) scale(1.12,1)" font-size="32" font-weight="bold" font-style="italic">z</text><text transform="translate(1344.9,830.4) scale(1.12,1)" font-size="32" font-weight="bold" font-style="italic">r</text><text transform="translate(1369.0,830.4) scale(1.12,1)" font-size="32" font-weight="bold" font-style="italic">t</text><text transform="translate(1388.9,830.4) scale(1.12,1)" font-size="32" font-weight="bold" font-style="italic">0</text><text transform="translate(1418.0,830.4) scale(1.12,1)" font-size="32" font-weight="bold" font-style="italic">1</text><text transform="translate(1447.0,830.4) scale(1.12,1)" font-size="32" font-weight="bold" font-style="italic">.</text><text transform="translate(1467.0,830.4) scale(1.12,1)" font-size="32" font-weight="bold" font-style="italic">c</text><text transform="translate(1495.2,830.4) scale(1.12,1)" font-size="32" font-weight="bold" font-style="italic">n</text></g><g fill="#8ac8fc"><text transform="translate(1288.3,829) scale(1.12,1)" font-size="32" font-weight="bold" font-style="italic">z</text><text transform="translate(1314.9,829) scale(1.12,1)" font-size="32" font-weight="bold" font-style="italic">z</text><text transform="translate(1343.1,829) scale(1.12,1)" font-size="32" font-weight="bold" font-style="italic">r</text><text transform="translate(1367.2,829) scale(1.12,1)" font-size="32" font-weight="bold" font-style="italic">t</text><text transform="translate(1387.1,829) scale(1.12,1)" font-size="32" font-weight="bold" font-style="italic">0</text><text transform="translate(1416.2,829) scale(1.12,1)" font-size="32" font-weight="bold" font-style="italic">1</text><text transform="translate(1445.2,829) scale(1.12,1)" font-size="32" font-weight="bold" font-style="italic">.</text><text transform="translate(1465.2,829) scale(1.12,1)" font-size="32" font-weight="bold" font-style="italic">c</text><text transform="translate(1493.4,829) scale(1.12,1)" font-size="32" font-weight="bold" font-style="italic">n</text></g></g>
<path d="M1459.5 2V831" stroke="#2a2e39" stroke-width="1"/>
<text x="1467" y="771.5" font-size="12" fill="#4a4d57" textLength="23" lengthAdjust="spacingAndGlyphs">0.00</text>
<text x="1386.3" y="821" font-size="12" fill="#4a4d57" text-anchor="middle">Mar</text>
<path d="M1486 812H1493L1496.5 817.5L1493 823H1486L1482.5 817.5Z" fill="none" stroke="#131722" stroke-width="1.1"/><circle cx="1489.5" cy="817.5" r="1.6" fill="none" stroke="#131722" stroke-width="1.1"/>
</svg></body></html>
